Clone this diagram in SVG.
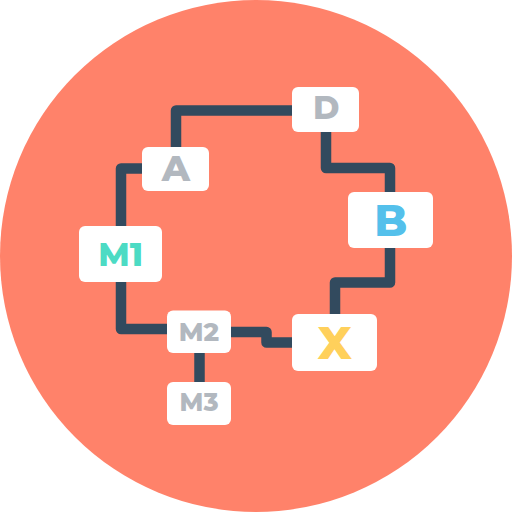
<svg xmlns="http://www.w3.org/2000/svg" width="512" height="512" viewBox="0 0 512 512">
<style>
.bg{fill:#FF826A}
.ln{fill:none;stroke:#324A5E;stroke-width:10.5;stroke-linejoin:round}
.box{fill:#FFFFFF}
.t{font-family:"Montserrat","Inter","Liberation Sans",sans-serif;font-weight:800;text-anchor:middle}
.gray{fill:#B2B8BF}
</style>
<circle class="bg" cx="256" cy="256" r="256"/>
<g id="connectors">
<path class="ln" d="M176 160 V110.5 H300"/>
<path class="ln" d="M150 168.5 H121 V240"/>
<path class="ln" d="M121 270 V329 H180"/>
<path class="ln" d="M326 120 V168 H390 V200"/>
<path class="ln" d="M390 240 V282.5 H335 V320"/>
<path class="ln" d="M220 332 H266.5 V342.5 H300"/>
<path class="ln" d="M199.5 340 V390"/>
</g>
<g id="node-D"><rect class="box" x="292" y="87" width="67" height="45" rx="6"/><text class="t gray" x="326.3" y="119" font-size="32">D</text></g>
<g id="node-A"><rect class="box" x="142" y="147" width="67" height="44" rx="6"/><text class="t gray" x="176" y="180.5" font-size="36">A</text></g>
<g id="node-B"><rect class="box" x="348" y="192" width="85" height="56" rx="6"/><text class="t" fill="#54C0EB" x="390.7" y="235.5" font-size="43">B</text></g>
<g id="node-M1"><rect class="box" x="79" y="226" width="83" height="56" rx="6"/><text class="t" fill="#4CDBC4" x="120.8" y="266" font-size="33">M1</text></g>
<g id="node-M2"><rect class="box" x="167" y="310.5" width="64" height="42.5" rx="6"/><text class="t gray" x="199" y="340.5" font-size="26">M2</text></g>
<g id="node-X"><rect class="box" x="292" y="314" width="85" height="57" rx="6"/><text class="t" fill="#FFD05B" x="334.7" y="358.5" font-size="46">X</text></g>
<g id="node-M3"><rect class="box" x="167" y="382" width="64" height="43" rx="6"/><text class="t gray" x="199" y="411" font-size="25">M3</text></g>
</svg>
